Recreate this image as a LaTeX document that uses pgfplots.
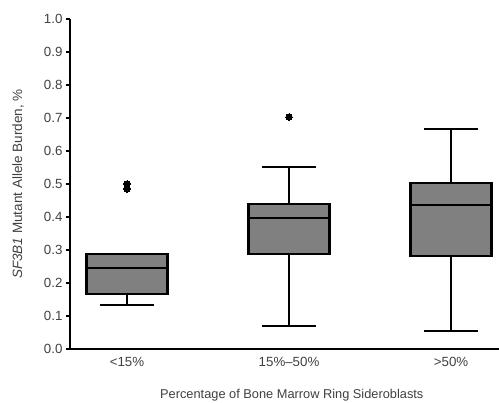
\documentclass[border=0pt]{standalone}
\usepackage{pgfplots}
\pgfplotsset{compat=1.18}
\usepgfplotslibrary{statistics}
\usepackage{fontspec}
\setmainfont{Liberation Sans}
\definecolor{txt}{HTML}{404040}
\definecolor{boxfill}{HTML}{808080}
\begin{document}
\begin{tikzpicture}
\path[use as bounding box] (-70pt,-54pt) rectangle (429pt,349pt);
\begin{axis}[
  at={(0pt,0pt)}, anchor=south west,
  scale only axis,
  width=429pt, height=330pt,
  xmin=0.648, xmax=3.296,
  ymin=0, ymax=1,
  axis x line=bottom, axis y line=left,
  axis line style={-, line width=1.6pt, black},
  xtick={1,2,3},
  xticklabels={{<15\%},{15\%–50\%},{>50\%}},
  x tick style={draw=none},
  ytick={0,0.1,...,1.0},
  yticklabel style={/pgf/number format/.cd, fixed, fixed zerofill, precision=1, assume math mode=true},
  y tick style={line width=1.6pt, black},
  tick align=outside,
  major tick length=4pt,
  ticklabel style={font=\fontsize{13.3}{15}\selectfont, text=txt},
  xticklabel style={yshift=-1pt},
  xlabel={Percentage of Bone Marrow Ring Sideroblasts},
  ylabel={\textit{SF3B1} Mutant Allele Burden, \%},
  xlabel style={at={(rel axis cs:0.517,0)}, anchor=center, yshift=-46pt, font=\fontsize{12.8}{15}\selectfont, text=txt},
  ylabel style={at={(rel axis cs:0,0.5)}, anchor=center, yshift=52pt, font=\fontsize{13.5}{15}\selectfont, text=txt},
  clip=false,
  boxplot/draw direction=y,
  boxplot/box extend=0.5,
  boxplot/whisker extend=0.333,
  boxplot/every box/.style={draw=black, fill=boxfill, line width=2.1pt},
  boxplot/every whisker/.style={black, line width=2pt},
  boxplot/every median/.style={black, line width=2.2pt},
]
\addplot+[boxplot prepared={draw position=1, lower whisker=0.133, lower quartile=0.168, median=0.246, upper quartile=0.288, upper whisker=0.288},
  mark=*, mark size=3.3pt, mark options={fill=black, draw=black, line width=0pt}, black]
  coordinates {(0,0.500) (0,0.485)};
\addplot+[boxplot prepared={draw position=2, lower whisker=0.071, lower quartile=0.288, median=0.396, upper quartile=0.439, upper whisker=0.552},
  mark=*, mark size=3.3pt, mark options={fill=black, draw=black, line width=0pt}, black]
  coordinates {(0,0.703)};
\addplot+[boxplot prepared={draw position=3, lower whisker=0.055, lower quartile=0.282, median=0.436, upper quartile=0.502, upper whisker=0.668},
  mark=*, mark size=3.3pt, mark options={fill=black, draw=black, line width=0pt}, black]
  coordinates {};
\end{axis}
\end{tikzpicture}
\end{document}
